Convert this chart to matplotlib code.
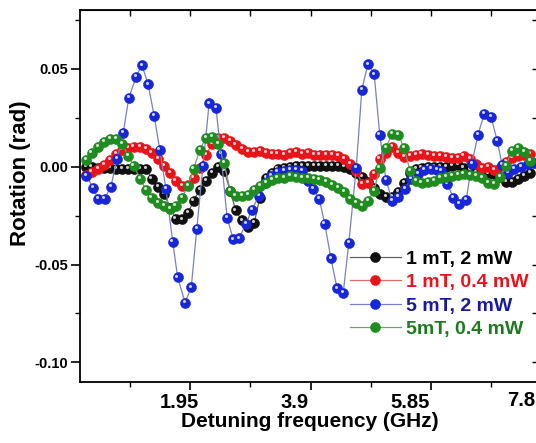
import matplotlib
matplotlib.use("Agg")
import matplotlib.pyplot as plt
from matplotlib.transforms import offset_copy, ScaledTranslation

plt.rcParams['font.family'] = ['Liberation Sans', 'DejaVu Sans']
plt.rcParams['font.weight'] = 'bold'
plt.rcParams['axes.unicode_minus'] = False

# common frequency grid (GHz) for the dense sweeps
freq = [0.27, 0.36, 0.46, 0.56, 0.66, 0.75, 0.85, 0.95, 1.04, 1.14,
        1.24, 1.33, 1.43, 1.53, 1.63, 1.72, 1.82, 1.92, 2.01, 2.11,
        2.21, 2.31, 2.40, 2.50, 2.60, 2.69, 2.79, 2.89, 2.99, 3.08,
        3.18, 3.28, 3.37, 3.47, 3.57, 3.67, 3.76, 3.86, 3.96, 4.05,
        4.15, 4.25, 4.35, 4.44, 4.54, 4.64, 4.73, 4.83, 4.93, 5.02,
        5.12, 5.22, 5.32, 5.41, 5.51, 5.61, 5.70, 5.80, 5.90, 6.00,
        6.09, 6.19, 6.29, 6.38, 6.48, 6.58, 6.68, 6.77, 6.87, 6.97,
        7.06, 7.16, 7.26, 7.36, 7.45]

# rotation in mrad
rot_1mT_2mW = [0.0, 0.0, -0.5, -0.5, -0.5, -1.0, -1.0, -1.0, -1.0, -1.0,
               -1.0, -6.1, -10.2, -13.8, -20.9, -26.5, -27.0, -23.5, -17.3, -11.7,
               -7.1, -3.1, 0.0, -2.0, -12.2, -22.4, -27.5, -30.6, -28.6, -15.8,
               -5.6, -3.1, -1.0, -0.5, 0.0, 0.5, 0.5, 0.5, 0.5, 0.5,
               0.5, 0.5, 0.5, 0.0, -1.0, -3.1, -5.1, -7.7, -10.7, -13.8,
               -15.3, -15.3, -12.8, -8.2, -3.1, -1.0, -0.5, 0.0, 0.0, 0.0,
               0.0, 0.5, 1.0, -0.5, -1.5, -3.1, -3.6, -3.6, -3.6, -5.1,
               -7.7, -7.7, -6.1, -4.6, -3.1]

rot_1mT_04mW = [-4.1, -2.6, -1.0, 1.0, 3.6, 6.6, 8.7, 9.7, 10.2, 10.2,
                9.2, 7.1, 4.1, 0.5, -3.1, -7.1, -9.7, -9.2, -5.6, -0.5,
                6.1, 11.7, 14.8, 14.8, 13.3, 11.2, 9.2, 7.7, 7.7, 8.2,
                7.1, 6.6, 6.6, 6.1, 7.1, 7.7, 6.6, 7.1, 6.1, 6.1,
                6.1, 6.1, 5.6, 4.1, 1.5, -2.0, -8.7, -8.2, -3.6, 4.1,
                7.1, 10.2, 7.1, 5.1, 5.6, 6.1, 6.6, 6.1, 5.6, 5.6,
                5.1, 4.6, 4.6, 5.6, 4.1, 1.5, -0.5, 0.0, -1.5, -0.5,
                2.6, 4.6, 5.6, 6.1, 6.6]

rot_5mT_04mW = [3.6, 7.1, 10.2, 12.8, 14.3, 14.3, 11.7, 5.6, 0.5, -6.1,
                -11.7, -15.8, -18.4, -19.9, -21.4, -19.9, -15.8, -9.7, -1.0, 8.7,
                14.8, 15.3, 11.7, 2.0, -12.2, -14.8, -14.8, -14.3, -11.7, -9.7,
                -8.2, -6.6, -5.6, -5.6, -4.6, -5.1, -5.6, -5.6, -6.1, -6.6,
                -7.7, -9.2, -10.7, -12.8, -16.3, -18.4, -19.9, -17.3, -12.2, -0.5,
                9.7, 16.8, 16.3, 9.7, -2.0, -7.1, -8.2, -7.7, -7.1, -5.6,
                -5.1, -4.6, -4.1, -3.6, -4.1, -4.6, -5.6, -8.2, -8.7, -5.1,
                0.5, 8.2, 9.7, 7.7, 3.1]

# the 5 mT, 2 mW sweep, read separately
freq_5mT_2mW = [0.27, 0.38, 0.46, 0.57, 0.67, 0.77, 0.87, 0.96, 1.08, 1.17,
                1.27, 1.37, 1.46, 1.56, 1.67, 1.75, 1.87, 1.97, 2.06, 2.16,
                2.26, 2.37, 2.45, 2.55, 2.65, 2.74, 2.86, 2.95, 3.07, 3.16,
                3.26, 3.37, 3.47, 3.57, 3.67, 3.76, 3.86, 3.94, 4.04, 4.13,
                4.23, 4.33, 4.43, 4.52, 4.64, 4.73, 4.83, 4.93, 5.02, 5.12,
                5.22, 5.32, 5.43, 5.53, 5.64, 5.74, 5.85, 5.95, 6.01, 6.11,
                6.21, 6.30, 6.42, 6.51, 6.61, 6.71, 6.82, 6.92, 7.00, 7.10,
                7.19, 7.31, 7.42, 7.52]
rot_5mT_2mW = [-4.6, -10.7, -16.3, -16.3, -10.2, 4.1, 17.3, 35.2, 45.9, 52.0,
               42.3, 26.0, 8.7, -11.2, -38.3, -56.6, -69.4, -61.7, -31.6, 0.5,
               32.6, 30.1, 6.6, -26.0, -37.2, -36.7, -29.1, -21.9, -14.8, -8.2,
               -4.6, -2.6, -2.0, -1.5, -1.5, -2.0, -7.1, -11.2, -16.3, -29.1,
               -46.9, -62.2, -64.3, -38.8, -0.5, 39.3, 52.5, 47.4, 16.3, -6.6,
               -17.3, -15.3, -11.2, -6.1, -3.6, -1.5, -1.0, -1.5, -2.0, -8.7,
               -15.8, -18.9, -16.8, 1.5, 16.3, 27.0, 25.5, 13.3, 1.0, -3.1,
               -1.0, 0.0, 1.5, 2.0]

series = [
    ('1 mT, 2 mW', freq, rot_1mT_2mW, '#101010', '#606060', 'black'),
    ('1 mT, 0.4 mW', freq, rot_1mT_04mW, '#e8141a', '#e86a6a', '#e8141a'),
    ('5 mT, 2 mW', freq_5mT_2mW, rot_5mT_2mW, '#1626d8', '#7a80c0', '#1a1aa0'),
    ('5mT, 0.4 mW', freq, rot_5mT_04mW, '#1e8c1e', '#7a9a7a', '#1e7a1e'),
]

fig = plt.figure(figsize=(5.36, 4.43), dpi=100)
# the right frame edge lies just past the picture border, as in the source
ax = fig.add_axes([80 / 536, 61 / 443, 459 / 536, 372 / 443])

shine = offset_copy(ax.transData, fig=fig, x=-1.3, y=1.3, units='dots')
handles = []
for label, f, r, col, lcol, tcol in series:
    y = [v / 1000 for v in r]
    h, = ax.plot(f, y, '-', color=lcol, lw=0.9, marker='o', ms=7.2,
                 mfc=col, mec=col, mew=0.4, label=label)
    ax.plot(f, y, 'o', ms=2.2, mfc='white', mec='none', alpha=0.8,
            transform=shine)
    handles.append(h)

ax.set_xlim(0.17, 7.597)
ax.set_ylim(-0.11, 0.08)
ax.set_xticks([1.95, 3.9, 5.85])
ax.set_xticklabels(['1.95', '3.9', '5.85'])
ax.set_xticks([0.975, 2.925, 4.875, 6.825], minor=True)
ax.set_yticks([-0.10, -0.05, 0.00, 0.05])
ax.set_yticklabels(['-0.10', '-0.05', '0.00', '0.05'])
ax.set_yticks([-0.075, -0.025, 0.025, 0.075], minor=True)

ax.tick_params(axis='x', which='major', labelsize=14.5, length=6, width=1.2,
               pad=2)
ax.tick_params(axis='y', which='major', labelsize=10.5, length=6.5, width=1.2,
               pad=2)
ax.tick_params(which='minor', length=3.5, width=1.0)
for s in ax.spines.values():
    s.set_linewidth(1.3)

# the tick labels in the source sit a little left of their ticks
for lab, dx in zip(ax.get_xticklabels(), [-11, -16, -21]):
    lab.set_transform(lab.get_transform() +
                      ScaledTranslation(dx / 100, 0, fig.dpi_scale_trans))

# the 7.8 tick sits just past the right edge; its label is still shown
fig.text(521 / 536, 1 - 391 / 443, '7.8', ha='center', va='top',
         fontsize=14.5, fontweight='bold')

top = ax.secondary_xaxis('top')
top.set_xticks([0.975, 1.95, 2.925, 3.9, 4.875, 5.85, 6.825])
top.tick_params(direction='in', length=4, width=1.0, labeltop=False)
right = ax.secondary_yaxis('right')
right.set_yticks([-0.10, -0.075, -0.05, -0.025, 0.0, 0.025, 0.05, 0.075])
right.tick_params(direction='in', length=5, width=1.0, labelright=False)

ax.set_xlabel('Detuning frequency (GHz)', fontsize=15, fontweight='bold',
              labelpad=0)
ax.set_ylabel('Rotation (rad)', fontsize=16, fontweight='bold')
ax.yaxis.set_label_coords(-0.107, 0.56)

leg = ax.legend(handles=handles, loc='upper left',
                bbox_to_anchor=(350 / 536, (443 - 250) / 443),
                bbox_transform=fig.transFigure, frameon=False,
                fontsize=14, handlelength=2.6, handletextpad=0.3,
                labelspacing=0.3, borderpad=0, borderaxespad=0)
for txt, s in zip(leg.get_texts(), series):
    txt.set_color(s[5])
    txt.set_fontweight('bold')

fig.savefig('out.png', dpi=100)
